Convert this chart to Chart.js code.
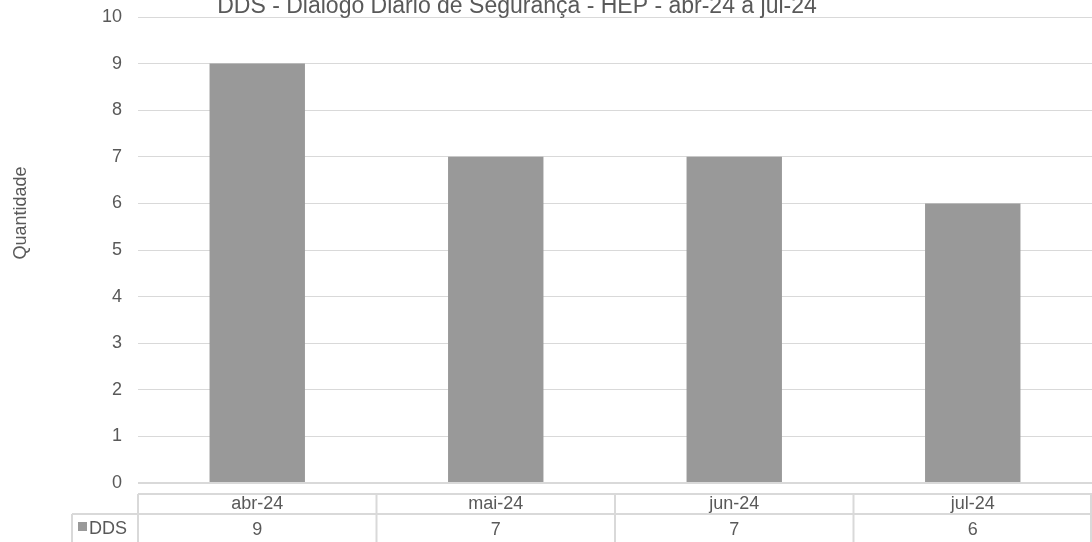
<!DOCTYPE html>
<html>
<head>
<meta charset="utf-8">
<script src="https://cdn.jsdelivr.net/npm/chart.js@4.4.0/dist/chart.umd.min.js"></script>
<style>
  body { margin: 0; background: #fff; }
  canvas { display: block; }
</style>
</head>
<body>
<canvas id="ddsChart" width="1092" height="542"></canvas>
<script>
// data
const months = ['abr-24', 'mai-24', 'jun-24', 'jul-24'];
const ddsValues = [9, 7, 7, 6];
const seriesName = 'DDS';
const chartTitle = 'DDS - Diálogo Diário de Segurança - HEP - abr-24 a jul-24';
const axisTitle = 'Quantidade';

const textColor = '#595959';
const lineColor = '#d9d9d9';
const barColor = '#999999';
const font = '18px "Liberation Sans", Arial, sans-serif';

// draws cut title, y axis title and the data table under the plot
const extrasPlugin = {
    id: 'extras',
    afterDraw(chart) {
        const c = chart.ctx;
        const xs = chart.scales.x;
        const area = chart.chartArea;
        c.save();
        c.fillStyle = textColor;

        // title (top is cropped in the reference)
        c.font = '23px "Liberation Sans", Arial, sans-serif';
        c.textAlign = 'center';
        c.textBaseline = 'alphabetic';
        c.fillText(chartTitle, 517, 13);

        // y axis title
        c.save();
        c.translate(26, 213);
        c.rotate(-Math.PI / 2);
        c.font = font;
        c.fillText(axisTitle, 0, 0);
        c.restore();

        // data table
        const half = (xs.getPixelForValue(1) - xs.getPixelForValue(0)) / 2;
        const top = 494, mid = 514, bottom = 545;
        c.strokeStyle = lineColor;
        c.lineWidth = 2;
        c.beginPath();
        c.moveTo(area.left, top); c.lineTo(area.right, top);
        c.moveTo(72, mid); c.lineTo(area.right, mid);
        c.moveTo(72, mid); c.lineTo(72, bottom);
        c.moveTo(area.right - 1, top); c.lineTo(area.right - 1, bottom);
        months.forEach((m, i) => {
            const left = xs.getPixelForValue(i) - half;
            c.moveTo(left, top); c.lineTo(left, bottom);
        });
        c.stroke();

        c.font = font;
        c.textBaseline = 'middle';
        months.forEach((m, i) => {
            const x = xs.getPixelForValue(i);
            c.fillText(m, x, 504);
            c.fillText(String(ddsValues[i]), x, 530);
        });

        // legend key
        c.fillStyle = barColor;
        c.fillRect(78, 522, 9, 9);
        c.fillStyle = textColor;
        c.textAlign = 'left';
        c.fillText(seriesName, 89, 529);
        c.restore();
    }
};

let ctx = document.getElementById('ddsChart').getContext('2d');

let ddsChart = new Chart(ctx, {
    type: 'bar',
    data: {
        labels: months,
        datasets: [{
            label: seriesName,
            data: ddsValues,
            backgroundColor: barColor,
            barPercentage: 0.4,
            categoryPercentage: 1
        }]
    },
    options: {
        responsive: false,
        animation: false,
        layout: {
            padding: { top: 17, bottom: 59, left: 0, right: 0 }
        },
        plugins: {
            legend: { display: false },
            title: { display: false },
            tooltip: { enabled: false }
        },
        scales: {
            x: {
                display: false
            },
            y: {
                min: 0,
                max: 10,
                afterFit(scale) {
                    scale.width = 138;
                    scale.paddingTop = 0;
                    scale.paddingBottom = 0;
                },
                border: { display: false },
                grid: {
                    color: lineColor,
                    lineWidth: c => c.tick.value === 0 ? 2 : 1,
                    drawTicks: false
                },
                ticks: {
                    stepSize: 1,
                    padding: 16,
                    color: textColor,
                    font: { family: '"Liberation Sans", Arial, sans-serif', size: 18 }
                }
            }
        }
    },
    plugins: [extrasPlugin]
});
</script>
</body>
</html>
